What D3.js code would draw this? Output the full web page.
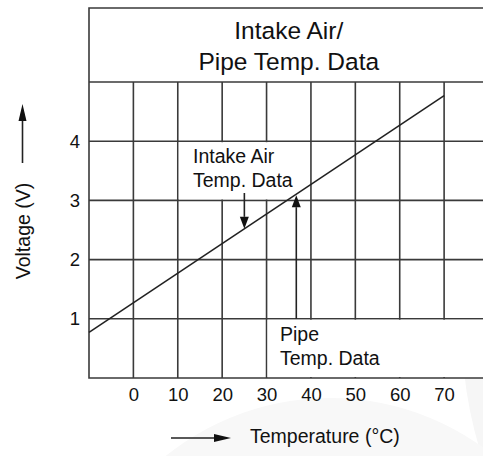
<!DOCTYPE html>
<html><head><meta charset="utf-8">
<script src="https://cdn.jsdelivr.net/npm/d3@7"></script>
<style>
html,body{margin:0;padding:0;background:#fff;}
svg{display:block;font-family:"Liberation Sans",Arial,Helvetica,sans-serif;}
</style></head>
<body><svg id="c" width="483" height="456"></svg>
<script>
// ---- data ----
const tempTicks = [0, 10, 20, 30, 40, 50, 60, 70];
const voltTicks = [1, 2, 3, 4];
const lineTemp = [-10, 70];
const lineVolt = [0.77, 4.77];
const intakeArrowTemp = 25;
const pipeArrowTemp = 36.7;
const titleLines = ["Intake Air/", "Pipe Temp. Data"];
const intakeLabel = ["Intake Air", "Temp. Data"];
const pipeLabel = ["Pipe", "Temp. Data"];
const xTitle = "Temperature (\u00B0C)";
const yTitle = "Voltage (V)";

const svg = d3.select("#c");
const stroke = "#3a3a3a";
const x = d3.scaleLinear().domain([-10, 80]).range([89, 488.5]);
const y = d3.scaleLinear().domain([0, 5]).range([378, 82]);
const topY = 8;
const voltAt = t => lineVolt[0] + (t - lineTemp[0]) * (lineVolt[1] - lineVolt[0]) / (lineTemp[1] - lineTemp[0]);

// faint background watermark shapes
svg.append("circle").attr("cx", 875).attr("cy", 330).attr("r", 413).attr("fill", "#f6f6f6");
svg.append("circle").attr("cx", 330).attr("cy", 660).attr("r", 262).attr("fill", "#f8f8f8");

// white panel
svg.append("rect").attr("x", x(-10)).attr("y", topY).attr("width", x(80) - x(-10)).attr("height", y(0) - topY).attr("fill", "#fff");

const g = svg.append("g").attr("stroke", stroke).attr("stroke-width", 1.6).attr("fill", "none");
// vertical grid lines
g.selectAll("line.v").data(tempTicks).join("line").attr("class", "v")
  .attr("x1", d => x(d)).attr("x2", d => x(d)).attr("y1", y(5)).attr("y2", y(0));
// horizontal grid lines
g.selectAll("line.h").data(voltTicks).join("line").attr("class", "h")
  .attr("x1", x(-10)).attr("x2", x(80)).attr("y1", d => y(d)).attr("y2", d => y(d));
// frame
g.append("path").attr("d", `M${x(80)},${topY}H${x(-10)}V${y(0)}H${x(80)}`);
g.append("line").attr("x1", x(-10)).attr("x2", x(80)).attr("y1", y(5)).attr("y2", y(5));

// label knock-out areas
svg.append("rect").attr("x", x(10) + 1).attr("y", y(4) + 1).attr("width", x(40) - x(10) - 2).attr("height", y(3) - y(4) - 2).attr("fill", "#fff");
svg.append("rect").attr("x", x(30) + 1).attr("y", y(1) + 1).attr("width", x(80) - x(30)).attr("height", y(0) - y(1) - 2).attr("fill", "#fff");

// data line
svg.append("path").datum(lineTemp.map((t, i) => [t, lineVolt[i]]))
  .attr("d", d3.line().x(d => x(d[0])).y(d => y(d[1])))
  .attr("stroke", "#222").attr("stroke-width", 1.6).attr("fill", "none");

// arrow helper
function arrow(x1, y1, x2, y2, headLen, headW) {
  const ang = Math.atan2(y2 - y1, x2 - x1);
  const bx = x2 - headLen * Math.cos(ang), by = y2 - headLen * Math.sin(ang);
  svg.append("line").attr("x1", x1).attr("y1", y1).attr("x2", bx).attr("y2", by)
    .attr("stroke", "#222").attr("stroke-width", 1.6);
  const px = -Math.sin(ang) * headW / 2, py = Math.cos(ang) * headW / 2;
  svg.append("path").attr("d", `M${x2},${y2}L${bx + px},${by + py}L${bx - px},${by - py}Z`).attr("fill", "#111");
}
// intake arrow (down to line)
arrow(x(intakeArrowTemp), 193, x(intakeArrowTemp), y(voltAt(intakeArrowTemp)), 12, 9);
// pipe arrow (up to line)
arrow(x(pipeArrowTemp), y(1), x(pipeArrowTemp), y(voltAt(pipeArrowTemp)) + 1, 12, 9);

const txt = svg.append("g").attr("fill", "#111");
// header title
txt.selectAll("text.t").data(titleLines).join("text").attr("class", "t")
  .attr("x", (x(-10) + x(80)) / 2).attr("y", (d, i) => 39 + i * 31)
  .attr("text-anchor", "middle").attr("font-size", 24.5).text(d => d);
// intake label
txt.selectAll("text.il").data(intakeLabel).join("text").attr("class", "il")
  .attr("x", 193).attr("y", (d, i) => 163 + i * 23.5).attr("font-size", 19.5).text(d => d);
// pipe label
txt.selectAll("text.pl").data(pipeLabel).join("text").attr("class", "pl")
  .attr("x", 280).attr("y", (d, i) => 341 + i * 24).attr("font-size", 19.5).text(d => d);

// axes tick labels
const xa = svg.append("g").attr("transform", `translate(0,${y(0)})`)
  .call(d3.axisBottom(x).tickValues(tempTicks).tickFormat(d3.format("d")).tickSize(0).tickPadding(10));
xa.select(".domain").remove();
xa.selectAll("text").attr("font-size", 18.5).attr("fill", "#111");
xa.attr("font-family", null).attr("font-size", null);
const ya = svg.append("g").attr("transform", `translate(${x(-10)},0)`)
  .call(d3.axisLeft(y).tickValues(voltTicks).tickFormat(d3.format("d")).tickSize(0).tickPadding(9));
ya.select(".domain").remove();
ya.selectAll("text").attr("font-size", 18.5).attr("fill", "#111");
ya.attr("font-family", null).attr("font-size", null);

// axis titles with arrows
txt.append("text").attr("x", 250).attr("y", 443).attr("font-size", 19.5).text(xTitle);
arrow(171, 438, 231, 438, 17, 8);
txt.append("text").attr("transform", "translate(30,231) rotate(-90)")
  .attr("text-anchor", "middle").attr("font-size", 19.5).text(yTitle);
arrow(22.5, 163, 22.5, 104, 17, 8);
</script></body></html>
